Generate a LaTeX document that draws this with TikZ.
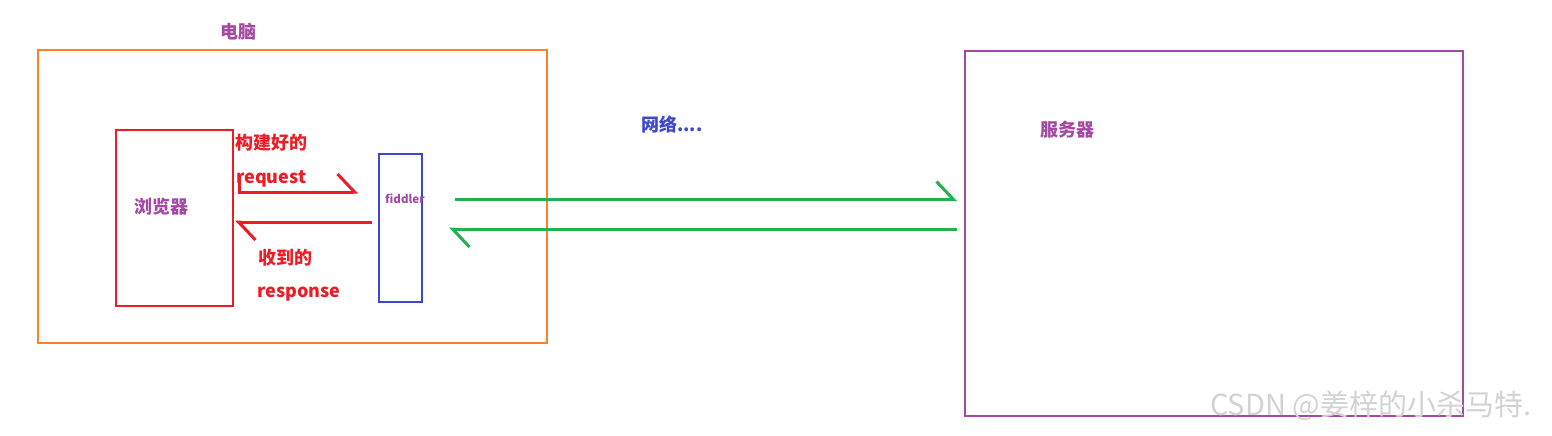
\documentclass[tikz,border=0pt]{standalone}
\usepackage{fontspec}
\setmainfont{Noto Sans CJK SC}
\usepackage{tikz}
\usetikzlibrary{arrows.meta,positioning,calc}
\definecolor{paintorange}{RGB}{255,127,39}
\definecolor{paintred}{RGB}{237,28,36}
\definecolor{paintpurple}{RGB}{163,73,164}
\definecolor{paintblue}{RGB}{63,72,204}
\definecolor{paintgreen}{RGB}{34,177,76}
\tikzset{
	box/.style={
		rectangle,
		line width=2.5pt,
		inner sep=0pt,
	},
	lbl/.style={
		inner sep=0pt,
		font=\fontsize{18}{21}\selectfont\bfseries,
	},
	barb/.style={
		line width=3pt,
		-{Straight Barb[harpoon,length=17pt,width=36pt]},
	},
}

\begin{document}
\begin{tikzpicture}[x=1pt, y=-1pt]
				\useasboundingbox (0,0) rectangle (1552,436);
				% boxes
				\node [box, draw=paintorange, minimum width=509pt, minimum height=293pt] (pc) at (292.5,196.5) {};
				\node [box, draw=paintred, minimum width=117pt, minimum height=176pt] (browser) at (174.5,218) {};
				\node [box, draw=paintblue, minimum width=43pt, minimum height=148pt] (fiddler) at (400.5,228) {};
				\node [box, draw=paintpurple, minimum width=498pt, minimum height=365pt] (server) at (1214,233.5) {};
				
				% labels
				\node [lbl, text=paintpurple, anchor=west] (pc-lbl) at (220,32) {电脑};
				\node [lbl, text=paintpurple, anchor=west] (browser-lbl) at (134,207) {浏览器};
				\node [inner sep=0pt, font=\fontsize{11.5}{13}\selectfont\bfseries, text=paintpurple, anchor=base west] (fiddler-lbl) at (385,203) {fiddler};
				\node [lbl, text=paintred, anchor=west] (req-lbl1) at (235,143) {构建好的};
				\node [lbl, text=paintred, anchor=base west] (req-lbl2) at (236,183) {request};
				\node [lbl, text=paintred, anchor=west] (resp-lbl1) at (258,258) {收到的};
				\node [lbl, text=paintred, anchor=base west] (resp-lbl2) at (257,297) {response};
				\node [lbl, text=paintblue, anchor=west] (net-lbl) at (641,125) {网络....};
				\node [lbl, text=paintpurple, anchor=west] (server-lbl) at (1040,130) {服务器};
				\node [inner sep=0pt, font=\fontsize{29}{32}\selectfont, text=gray!35, anchor=west] (mark) at (1210,406) {CSDN @姜梓的小杀马特.};
				
				% end points
				\coordinate (req-start) at (239,176);
				\coordinate (req-end) at (358,192);
				\coordinate (resp-start) at (372,222);
				\coordinate (resp-end) at (235,222);
				\coordinate (up-start) at (455,199.5);
				\coordinate (up-end) at (957,199.5);
				\coordinate (down-start) at (957,229);
				\coordinate (down-end) at (449,229);
				
				%arrows
				\draw[barb, paintred] (req-start) |- (req-end);
				\draw[barb, paintred] (resp-start) -- (resp-end);
				\draw[barb, paintgreen] (up-start) -- (up-end);
				\draw[barb, paintgreen] (down-start) -- (down-end);
			\end{tikzpicture}
\end{document}
